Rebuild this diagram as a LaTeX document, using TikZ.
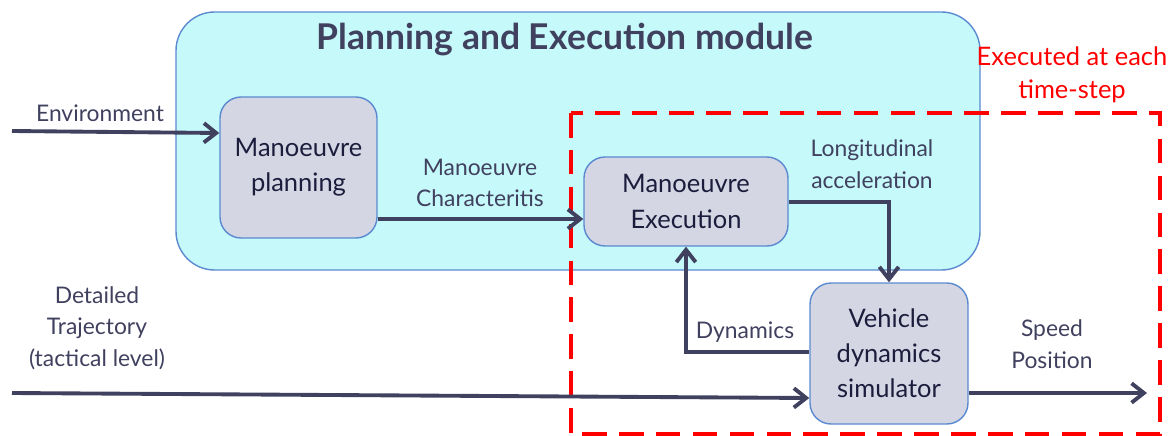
\documentclass[tikz,border=0pt]{standalone}
\usepackage{fontspec}
\setmainfont{Lato}
\usetikzlibrary{arrows.meta}
\definecolor{cmod}{HTML}{C6F9FA}
\definecolor{cmodline}{HTML}{5B8AD0}
\definecolor{cblock}{HTML}{D4D6E4}
\definecolor{cwire}{HTML}{40405F}
\definecolor{ctext}{HTML}{1C1C3C}
\definecolor{cred}{HTML}{FF0000}
\tikzset{
  every picture/.style={>={Straight Barb[length=7pt,width=11pt]}, font=\fontsize{13}{18}\selectfont},
  module/.style={draw=cmodline, fill=cmod, rounded corners=22pt, line width=0.8pt},
  block/.style={draw=cmodline, fill=cblock, rounded corners=12pt, line width=0.8pt,
    text=ctext, align=center, font=\fontsize{14.5}{20}\selectfont, inner sep=0pt},
  wire/.style={cwire, line width=2.2pt, ->},
  lbl/.style={text=cwire, align=center, inner sep=0pt},
  loop/.style={cred, line width=2pt, dash pattern=on 14pt off 7pt},
}
\begin{document}
\begin{tikzpicture}[x=0.02cm, y=-0.02cm]
  \useasboundingbox (0,0) rectangle (1173,436);
  % module frame
  \draw[module] (176,12) rectangle (980,270);
  \node[font=\fontsize{20.2}{24}\selectfont\bfseries, text=cwire] (title) at (565,40) {Planning and Execution module};
  % blocks
  \node[block, minimum width=157*0.02cm, minimum height=141*0.02cm] (plan) at (298.5,167.5) {Manoeuvre\\planning};
  \node[block, minimum width=204*0.02cm, minimum height=89*0.02cm] (exec) at (686,201.5) {Manoeuvre\\Execution};
  \node[block, minimum width=158*0.02cm, minimum height=141*0.02cm] (sim) at (889,353.5) {Vehicle\\dynamics\\simulator};
  % time-step loop
  \draw[loop] (571,113) rectangle (1160,434);
  \node[text=cred, align=center, inner sep=0pt, font=\fontsize{14.5}{19}\selectfont] (each) at (1072,75) {Executed at each\\time-step};
  % free ends
  \coordinate (envin) at (12,131);
  \coordinate (trajin) at (12,393);
  \coordinate (out) at (1147,393);
  % connectors
  \draw[wire] (envin) -- (plan.west |- 0,133);
  \draw[wire] (plan.east |- 0,219) -- (exec.west |- 0,219);
  \draw[wire] (exec.east |- 0,202) -| (sim.north);
  \draw[wire] (sim.west |- 0,352) -| (exec.south);
  \draw[wire] (trajin) -- (sim.west |- 0,398);
  \draw[wire] (sim.east |- 0,393) -- (out);
  % labels
  \node[lbl] (lenv) at (100,113) {Environment};
  \node[lbl] (lchar) at (480,183) {Manoeuvre\\Characteritis};
  \node[lbl] (lacc) at (872,164) {Longitudinal\\acceleration};
  \node[lbl] (ldyn) at (745,332) {Dynamics};
  \node[lbl] (ltraj) at (97,328) {Detailed\\Trajectory\\(tactical level)};
  \node[lbl] (lout) at (1052,344) {Speed\\Position};
\end{tikzpicture}
\end{document}
